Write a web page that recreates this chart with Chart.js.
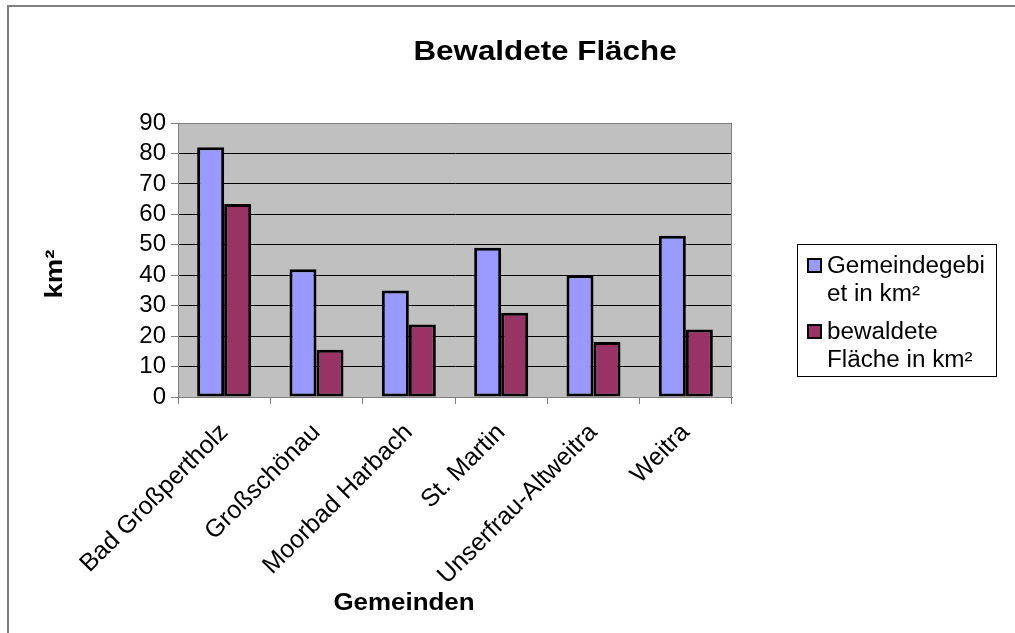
<!DOCTYPE html>
<html lang="de">
<head>
<meta charset="utf-8">
<title>Bewaldete Fläche</title>
<script src="https://cdn.jsdelivr.net/npm/chart.js@4/dist/chart.umd.min.js"></script>
<style>
  html, body { margin:0; padding:0; background:#fff; }
  canvas { display:block; }
</style>
</head>
<body>
<canvas id="waldChart" width="1015" height="633"></canvas>
<script>
// ===============================
// DATEN
// ===============================
const gemeinden = ["Bad Großpertholz", "Großschönau", "Moorbad Harbach", "St. Martin", "Unserfrau-Altweitra", "Weitra"];
const gemeindegebiet = [82, 42, 35, 49, 40, 53];
const bewaldeteFlaeche = [63.4, 15.5, 23.8, 27.7, 18.1, 22.2];
const serienNamen = ["Gemeindegebiet in km²", "bewaldete Fläche in km²"];
const legendenZeilen = [["Gemeindegebi", "et in km²"], ["bewaldete", "Fläche in km²"]];
const yMin = 0;
const yMax = 90;
const yStep = 10;

const FONT = "'Liberation Sans', Arial, sans-serif";
const BLAU = "#9999ff";
const LILA = "#993366";


// ===============================
// TEXT (leicht gestreckt wie im Original)
// ===============================
function schreibe(ctx, str, x, y, font, sx, rot, align){
  ctx.save();
  ctx.translate(x, y);
  if(rot) ctx.rotate(rot);
  ctx.scale(sx, 1);
  ctx.font = font;
  ctx.fillStyle = "#000";
  ctx.textAlign = align || "center";
  ctx.textBaseline = "alphabetic";
  ctx.fillText(str, 0, 0);
  ctx.restore();
}


// ===============================
// RAHMEN, TITEL, LEGENDE
// ===============================
const deko = {
  id: "deko",
  beforeDraw(chart){
    const {ctx, chartArea:a} = chart;
    ctx.save();
    ctx.fillStyle = "#fff";
    ctx.fillRect(0, 0, chart.width, chart.height);
    ctx.strokeStyle = "#808080";
    ctx.lineWidth = 2;
    ctx.strokeRect(8, 6, 1200, 800);
    ctx.fillStyle = "#c0c0c0";
    ctx.fillRect(a.left, a.top, a.right - a.left, a.bottom - a.top);
    ctx.restore();
  },
  beforeDatasetsDraw(chart){
    const {ctx, chartArea:a} = chart;
    ctx.save();
    ctx.strokeStyle = "#808080";
    ctx.lineWidth = 1;
    ctx.beginPath();
    ctx.moveTo(a.left, a.top + 0.5);
    ctx.lineTo(a.right - 0.5, a.top + 0.5);
    ctx.lineTo(a.right - 0.5, a.bottom);
    ctx.stroke();
    ctx.restore();
  },
  afterDraw(chart){
    const ctx = chart.ctx;

    schreibe(ctx, "Bewaldete Fläche", 545, 60, "bold 28px " + FONT, 1.12);
    schreibe(ctx, "Gemeinden", 404, 610, "bold 24px " + FONT, 1.08);
    schreibe(ctx, "km²", 62, 274, "bold 24px " + FONT, 1.15, -Math.PI / 2);

    // Legende
    ctx.save();
    ctx.fillStyle = "#fff";
    ctx.fillRect(797, 244, 200, 133);
    ctx.strokeStyle = "#000";
    ctx.lineWidth = 1;
    ctx.strokeRect(797.5, 244.5, 199, 132);

    const basis = [273, 339];
    chart.data.datasets.forEach((ds, i) => {
      const y = basis[i];
      ctx.fillStyle = ds.backgroundColor;
      ctx.fillRect(808, y - 14, 13, 13);
      ctx.strokeStyle = "#000";
      ctx.lineWidth = 2;
      ctx.strokeRect(808, y - 14, 13, 13);
      legendenZeilen[i].forEach((z, j) => {
        schreibe(ctx, z, 827, y + j * 27.7, "23px " + FONT, 1.055, 0, "left");
      });
    });
    ctx.restore();
  }
};


// ===============================
// GRAFIK
// ===============================
new Chart(document.getElementById("waldChart"), {
  type: "bar",
  data: {
    labels: gemeinden,
    datasets: [
      {
        label: serienNamen[0],
        data: gemeindegebiet,
        backgroundColor: BLAU,
        borderColor: "#000",
        borderWidth: 3,
        borderSkipped: false
      },
      {
        label: serienNamen[1],
        data: bewaldeteFlaeche,
        backgroundColor: LILA,
        borderColor: "#000",
        borderWidth: 3,
        borderSkipped: false
      }
    ]
  },
  options: {
    responsive: false,
    animation: false,
    devicePixelRatio: 1,
    categoryPercentage: 0.585,
    barPercentage: 1,
    layout: { padding: { top: 123, left: 0, right: 283, bottom: 0 } },
    plugins: {
      legend: { display: false },
      title: { display: false },
      tooltip: { enabled: false }
    },
    scales: {
      x: {
        afterFit(s){ s.height = 236; },
        grid: {
          drawOnChartArea: false,
          drawTicks: true,
          tickLength: 7,
          color: "#808080"
        },
        border: { display: true, color: "#808080", width: 1 },
        ticks: {
          autoSkip: false,
          minRotation: 45,
          maxRotation: 45,
          padding: 14,
          color: "#000",
          font: { family: FONT, size: 25 }
        }
      },
      y: {
        min: yMin,
        max: yMax,
        afterFit(s){ s.width = 178; },
        grid: {
          color: "#000",
          lineWidth: 1,
          tickColor: "#808080",
          tickLength: 7
        },
        border: { display: true, color: "#808080", width: 1 },
        ticks: {
          autoSkip: false,
          stepSize: yStep,
          padding: 5,
          color: "#000",
          font: { family: FONT, size: 24 }
        }
      }
    }
  },
  plugins: [deko]
});
</script>
</body>
</html>
